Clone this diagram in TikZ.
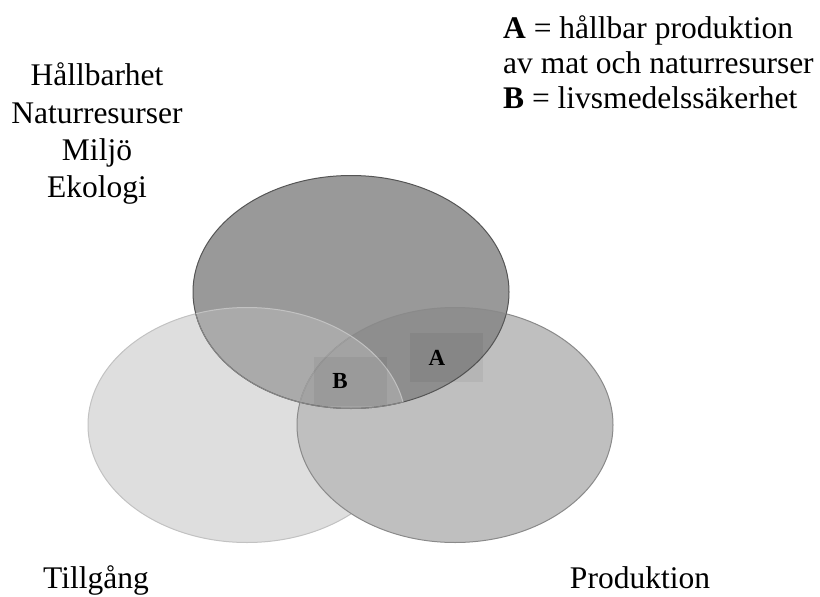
\documentclass[tikz,border=0pt]{standalone}
\usepackage{fontspec}
\setmainfont{Liberation Serif}
\definecolor{fillT}{HTML}{999999}
\definecolor{fillL}{HTML}{DEDEDE}
\definecolor{fillR}{HTML}{BFBFBF}
\definecolor{fillTL}{HTML}{AAAAAA}
\definecolor{fillTR}{HTML}{8E8E8E}
\definecolor{fillTLR}{HTML}{A3A3A3}
\definecolor{edgeT}{HTML}{555555}
\definecolor{edgeTin}{HTML}{858585}
\definecolor{edgeL}{HTML}{C2C2C2}
\definecolor{edgeR}{HTML}{8A8A8A}
\definecolor{edgeRin}{HTML}{9E9E9E}
\begin{document}
\begin{tikzpicture}[x=1pt,y=-1pt,
  lbl/.style={font=\fontsize{31.5}{37}\selectfont, inner sep=0pt, anchor=base},
  leg/.style={font=\fontsize{31.5}{37}\selectfont, inner sep=0pt, anchor=base west},
  boxlbl/.style={font=\fontsize{23}{26}\selectfont\bfseries, inner sep=0pt},
  shade/.style={fill=black, fill opacity=0.05, draw=none},
  edge/.style={line width=1pt}]
\useasboundingbox (0,0) rectangle (820,597);
\def\Tp{(351,292) ellipse [x radius=158pt, y radius=116.5pt]}
\def\Lp{(247,425) ellipse [x radius=159pt, y radius=117.5pt]}
\def\Rp{(455,425) ellipse [x radius=158pt, y radius=117.5pt]}
% left ellipse
\fill[fillL] \Lp;
\draw[edge, edgeL] \Lp;
% right ellipse
\fill[fillR] \Rp;
\draw[edge, edgeR] \Rp;
% top ellipse and its overlaps
\fill[fillT] \Tp;
\begin{scope}\clip \Tp; \fill[fillTL] \Lp; \end{scope}
\begin{scope}\clip \Tp; \fill[fillTR] \Rp; \end{scope}
\begin{scope}\clip \Tp; \clip \Lp; \fill[fillTLR] \Rp; \end{scope}
% edges
\draw[edge, edgeT] \Tp;
\begin{scope}\clip \Lp; \draw[edge, edgeTin] \Tp; \end{scope}
\begin{scope}\clip \Tp; \draw[edge, edgeR] \Rp; \end{scope}
\begin{scope}\clip \Tp; \clip \Lp; \draw[edge, edgeRin] \Rp; \end{scope}
\begin{scope}\clip \Tp; \draw[edge, edgeL] \Lp; \end{scope}
% boxes
\path[shade] (410,333) rectangle (483,382);
\path[shade] (314,357) rectangle (387,406);
\node[boxlbl] (A) at (437,358) {A};
\node[boxlbl] (B) at (340,381) {B};
% labels
\node[lbl] (h1) at (97,85) {Hållbarhet};
\node[lbl] (h2) at (97,123) {Naturresurser};
\node[lbl] (h3) at (97,160) {Miljö};
\node[lbl] (h4) at (97,197) {Ekologi};
\node[lbl] (till) at (96,588) {Tillgång};
\node[lbl] (prod) at (640,588) {Produktion};
\node[leg] (l1) at (503,38) {\textbf{A} = hållbar produktion};
\node[leg] (l2) at (503,73) {av mat och naturresurser};
\node[leg] (l3) at (503,108) {\textbf{B} = livsmedelssäkerhet};
\end{tikzpicture}
\end{document}
